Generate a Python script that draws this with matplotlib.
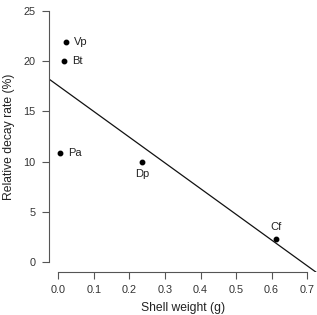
import matplotlib
matplotlib.use("Agg")
import matplotlib.pyplot as plt

species = ["Vp", "Bt", "Pa", "Dp", "Cf"]
shell_weight = [0.020, 0.015, 0.005, 0.235, 0.613]
decay_rate = [21.9, 20.0, 10.9, 10.0, 2.3]
label_pos = ["right", "right", "right", "below", "above"]
fit_intercept = 17.55
fit_slope = -25.6
xticks = [0.0, 0.1, 0.2, 0.3, 0.4, 0.5, 0.6, 0.7]
yticks = [0, 5, 10, 15, 20, 25]

plt.rcParams['font.family'] = ['Liberation Sans', 'DejaVu Sans']
gray = "#555555"

fig = plt.figure(figsize=(3.17, 3.15), dpi=100)
ax = fig.add_axes([0.153, 0.1365, 0.847, 0.860])
ax.set_xlim(-0.028, 0.728)
ax.set_ylim(-1.0, 26)

ax.axline((0, fit_intercept), slope=fit_slope, color="#111111", lw=0.9)
ax.plot(shell_weight, decay_rate, 'o', color="black", ms=3.2, zorder=3)
for s, x, y, p in zip(species, shell_weight, decay_rate, label_pos):
    if p == "right":
        ax.annotate(s, (x, y), xytext=(6, 0), textcoords="offset points",
                    ha="left", va="center", fontsize=8, color="#222222")
    elif p == "below":
        ax.annotate(s, (x, y), xytext=(0, -5), textcoords="offset points",
                    ha="center", va="top", fontsize=8, color="#222222")
    else:
        ax.annotate(s, (x, y), xytext=(0, 5), textcoords="offset points",
                    ha="center", va="bottom", fontsize=8, color="#222222")

for side in ["top", "right"]:
    ax.spines[side].set_visible(False)
for side in ["left", "bottom"]:
    ax.spines[side].set_color(gray)
    ax.spines[side].set_linewidth(0.8)
ax.spines["left"].set_bounds(0, 25)
ax.spines["bottom"].set_bounds(0, 0.7)

ax.set_xticks(xticks)
ax.set_xticklabels([f"{t:.1f}" for t in xticks])
ax.set_yticks(yticks)
ax.tick_params(direction="out", length=5, width=0.8, color=gray,
               labelsize=7.8, labelcolor="#333333", pad=4.5)
ax.set_xlabel("Shell weight (g)", fontsize=8.7, color="#222222", labelpad=5)
ax.set_ylabel("Relative decay rate (%)", fontsize=8.7, color="#222222", labelpad=6)

fig.savefig("out.png", dpi=100)
